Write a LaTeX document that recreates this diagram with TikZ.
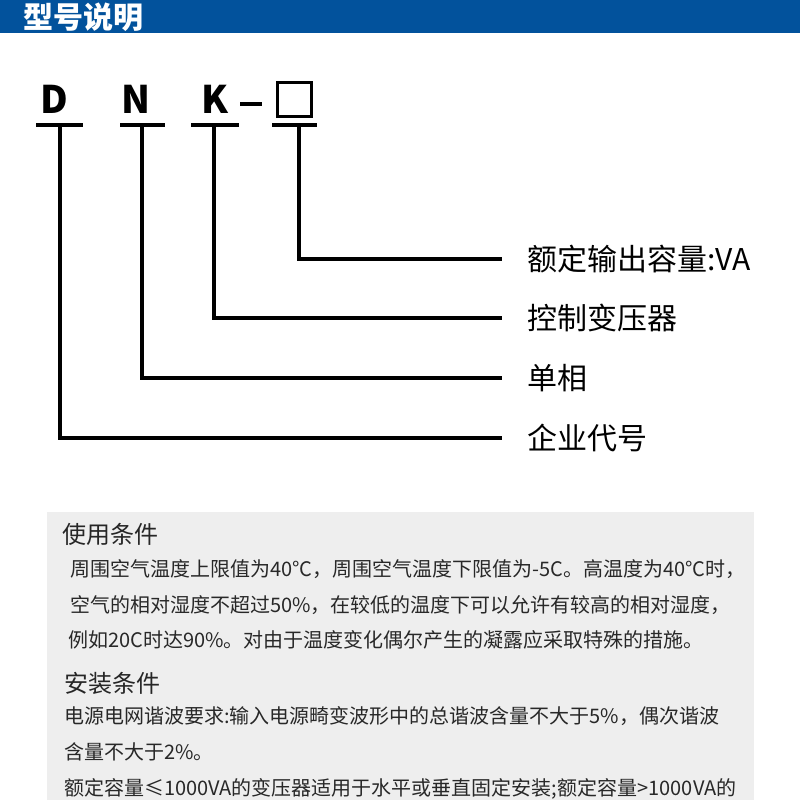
\documentclass[tikz,border=0pt]{standalone}
\usepackage{fontspec}
\newfontfamily\cjk{Noto Sans CJK SC}
\definecolor{hdrblue}{RGB}{2,82,156}
\definecolor{panelgrey}{RGB}{238,238,238}
\definecolor{bodytext}{RGB}{40,40,40}
\tikzset{
  lw/.style={line width=3.2pt},
  letter/.style={inner sep=0pt, anchor=base, font=\cjk\bfseries\fontsize{38}{38}\selectfont},
  label/.style={inner xsep=25pt, inner ysep=0pt, anchor=west, font=\cjk\fontsize{30}{30}\selectfont, text=black},
  sectitle/.style={inner sep=0pt, anchor=base west, font=\cjk\fontsize{24}{24}\selectfont, text=black!85},
  bodyline/.style={inner sep=0pt, anchor=base west, font=\cjk\fontsize{20}{20}\selectfont, text=bodytext},
}
\begin{document}
\begin{tikzpicture}[x=1pt,y=-1pt]
\useasboundingbox (0,0) rectangle (800,800);
% header bar
\fill[hdrblue] (0,0) rectangle (800,33);
\node[inner sep=0pt, anchor=west, text=white, font=\cjk\bfseries\fontsize{30}{30}\selectfont] (hdr) at (23,17) {型号说明};
% letters
\node[letter] (D) at (54,113) {D};
\node[letter] (N) at (136,113) {N};
\node[letter] (K) at (215,113) {K};
\draw[lw] (240,104) coordinate (dashA) -- (262,104) coordinate (dashB);
\node[draw, line width=3pt, minimum size=34pt, inner sep=0pt] (box) at (294.5,99) {};
% bars
\draw[lw] (36,125) coordinate (dl) -- (83,125) coordinate (dr);
\draw[lw] (120,125) coordinate (nl) -- (165,125) coordinate (nr);
\draw[lw] (191,125) coordinate (kl) -- (239,125) coordinate (kr);
\draw[lw] (272,125) coordinate (bl) -- (317,125) coordinate (br);
\coordinate (dt) at (60,125);
\coordinate (nt) at (142,125);
\coordinate (kt) at (214,125);
\coordinate (bt) at (299,125);
% labels
\node[label] (lb) at (502,259) {额定输出容量:VA};
\node[label] (lk) at (502,318) {控制变压器};
\node[label] (ln) at (502,378) {单相};
\node[label] (ld) at (502,438) {企业代号};
\draw[lw, line join=miter] (bt) |- (lb.west);
\draw[lw, line join=miter] (kt) |- (lk.west);
\draw[lw, line join=miter] (nt) |- (ln.west);
\draw[lw, line join=miter] (dt) |- (ld.west);
% panel
\fill[panelgrey] (47,512) rectangle (754,800);
\node[sectitle] (t1) at (62,543) {使用条件};
\node[bodyline] (a1) at (70,576) {周围空气温度上限值为40°C，周围空气温度下限值为-5C。高温度为40°C时，};
\node[bodyline] (a2) at (70,612) {空气的相对湿度不超过50\%，在较低的温度下可以允许有较高的相对湿度，};
\node[bodyline] (a3) at (68,647) {例如20C时达90\%。对由于温度变化偶尔产生的凝露应采取特殊的措施。};
\node[sectitle] (t2) at (64,692) {安装条件};
\node[bodyline] (b1) at (64,723) {电源电网谐波要求:输入电源畸变波形中的总谐波含量不大于5\%，偶次谐波};
\node[bodyline] (b2) at (64,759) {含量不大于2\%。};
\node[bodyline] (b3) at (64,795) {额定容量≤1000VA的变压器适用于水平或垂直固定安装;额定容量>1000VA的};
\end{tikzpicture}
\end{document}
